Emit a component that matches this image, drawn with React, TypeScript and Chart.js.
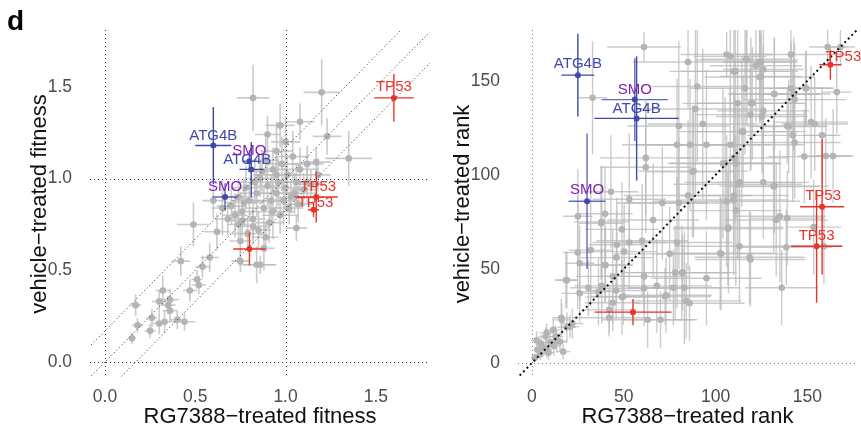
import React, { useEffect, useRef } from "react";
import { Chart, registerables } from "chart.js";
Chart.register(...registerables);

const FONT = "'Liberation Sans', Arial, Helvetica, sans-serif";

// ---------- Panel 1: fitness ----------
const fitTicks = [0, 0.5, 1, 1.5];
const fitVLines = [0, 1];
const fitHLines = [0, 1];
const fitDiagOffsets = [-0.17, 0, 0.17];

const fitGrayX = [0.82, 1.20, 0.97, 1.08, 0.90, 1.23, 1.35, 1.17, 0.49, 0.60, 0.62, 0.58, 0.42, 0.54, 0.51, 0.52, 0.47, 0.32, 0.17, 0.30, 0.36, 0.35, 0.36, 0.26, 0.18, 0.30, 0.33, 0.40, 0.44, 0.25, 0.15, 0.75, 0.75, 0.84, 0.86, 0.89, 1.06, 0.76, 0.82, 0.70, 0.72, 0.74, 0.76, 0.78, 0.80, 0.82, 0.84, 0.86, 0.88, 0.90, 0.92, 0.93, 0.95, 0.96, 0.98, 1.00, 1.01, 1.03, 1.04, 1.06, 1.08, 1.10, 1.12, 1.14, 0.89, 0.95, 1.00, 0.97, 1.02, 0.85, 0.79, 0.74, 0.68, 0.91, 1.07, 1.18, 0.99, 0.87, 0.83, 0.93, 1.05, 0.77, 0.95, 1.12, 0.65, 0.88];
const fitGrayY = [1.44, 1.47, 1.29, 1.31, 1.24, 1.23, 1.11, 1.09, 0.75, 0.88, 0.71, 0.57, 0.55, 0.52, 0.45, 0.42, 0.39, 0.39, 0.31, 0.33, 0.34, 0.31, 0.28, 0.24, 0.20, 0.21, 0.22, 0.23, 0.22, 0.17, 0.13, 0.66, 0.55, 0.53, 0.53, 0.68, 0.73, 0.77, 0.74, 0.85, 0.80, 0.90, 0.82, 0.95, 0.88, 0.78, 0.92, 1.00, 0.84, 0.96, 0.88, 1.05, 0.92, 0.98, 1.08, 0.95, 1.02, 0.90, 1.12, 0.98, 1.05, 0.94, 1.08, 0.97, 1.10, 1.15, 1.20, 0.80, 0.84, 0.72, 0.70, 0.75, 0.78, 0.76, 0.86, 1.02, 0.88, 1.04, 0.98, 0.82, 0.92, 0.87, 1.02, 0.98, 0.84, 0.62];
const fitGrayXErr = [0.09, 0.10, 0.08, 0.08, 0.07, 0.08, 0.13, 0.08, 0.09, 0.06, 0.07, 0.05, 0.05, 0.04, 0.03, 0.04, 0.04, 0.04, 0.03, 0.04, 0.05, 0.04, 0.04, 0.03, 0.03, 0.04, 0.05, 0.04, 0.06, 0.03, 0.02, 0.06, 0.05, 0.10, 0.09, 0.07, 0.06, 0.06, 0.08, 0.08, 0.07, 0.09, 0.06, 0.08, 0.10, 0.07, 0.09, 0.08, 0.10, 0.07, 0.09, 0.08, 0.10, 0.07, 0.09, 0.08, 0.10, 0.07, 0.09, 0.08, 0.10, 0.07, 0.09, 0.08, 0.07, 0.09, 0.08, 0.10, 0.08, 0.07, 0.09, 0.06, 0.07, 0.08, 0.09, 0.07, 0.09, 0.08, 0.10, 0.12, 0.12, 0.11, 0.13, 0.11, 0.06, 0.06];
const fitGrayYErr = [0.18, 0.18, 0.12, 0.10, 0.10, 0.10, 0.15, 0.08, 0.12, 0.10, 0.10, 0.08, 0.08, 0.06, 0.05, 0.05, 0.06, 0.08, 0.06, 0.06, 0.06, 0.05, 0.06, 0.05, 0.04, 0.06, 0.06, 0.05, 0.05, 0.04, 0.03, 0.10, 0.06, 0.10, 0.05, 0.08, 0.07, 0.09, 0.10, 0.10, 0.12, 0.10, 0.09, 0.12, 0.10, 0.11, 0.13, 0.10, 0.12, 0.11, 0.14, 0.12, 0.10, 0.13, 0.15, 0.12, 0.11, 0.09, 0.14, 0.10, 0.12, 0.09, 0.10, 0.08, 0.12, 0.16, 0.14, 0.10, 0.09, 0.10, 0.09, 0.10, 0.09, 0.11, 0.10, 0.09, 0.13, 0.11, 0.12, 0.15, 0.11, 0.13, 0.10, 0.12, 0.15, 0.12];

const fitTP53X = [1.60, 1.17, 1.155, 0.80];
const fitTP53Y = [1.44, 0.90, 0.83, 0.616];
const fitTP53XErr = [0.11, 0.12, 0.03, 0.09];
const fitTP53YErr = [0.13, 0.14, 0.04, 0.09];
const fitTP53Labels = ["TP53", "TP53", "TP53", ""];

const fitATG4BX = [0.60, 0.81];
const fitATG4BY = [1.18, 1.05];
const fitATG4BXErr = [0.10, 0.065];
const fitATG4BYErr = [0.21, 0.15];
const fitATG4BLabels = ["ATG4B", "ATG4B"];

const fitSMOX = [0.80, 0.665];
const fitSMOY = [1.095, 0.90];
const fitSMOXErr = [0.04, 0.07];
const fitSMOYErr = [0.06, 0.075];
const fitSMOLabels = ["SMO", "SMO"];

// ---------- Panel 2: rank ----------
const rankTicks = [0, 50, 100, 150];
const rankVLines = [0];
const rankHLines = [0];
const rankDiagOffsets = [0];

const rankGrayX = [61, 106, 108, 141, 161, 168, 85, 117, 124, 122, 126, 110, 124, 90, 116, 132, 141, 149, 143, 166, 33, 112, 120, 126, 89, 119, 152, 154, 93, 80, 139, 142, 115, 158, 108, 95, 79, 62, 164, 160, 110, 111, 104, 62, 88, 113, 126, 112, 132, 43, 53, 71, 80, 85, 106, 110, 111, 133, 139, 135, 66, 25, 38, 107, 113, 159, 49, 60, 79, 53, 32, 46, 75, 103, 119, 40, 44, 61, 26, 19, 78, 82, 95, 68, 83, 136, 26, 38, 49, 73, 44, 84, 77, 42, 63, 70, 16, 19, 22, 2.5, 8, 13, 6, 10, 13.5, 17, 4.4, 1.6, 9, 12, 5, 3,
  116.7, 124.7, 110.7, 124.7, 132, 142.5, 149.4, 119.2, 125.2, 114.3, 139.8, 86.1, 148.3, 143, 105.2, 87.4, 109.8, 131.6, 102.5, 118.5, 138.5, 153.4, 106.7, 81.6, 85.8, 39.8, 37.6, 46.2, 24.9, 39.8, 50.2, 18.5, 30.7, 36.2, 45.8, 49.8, 61.1, 72.5, 42.1, 16.2, 20.7, 11.6, 7.5, 15.3, 8];
const rankGrayY = [168, 164, 163, 164, 168, 168, 160, 161, 160, 158, 156, 155, 152, 147, 146, 143, 146, 146, 140, 144, 141, 138, 138, 134, 135, 132, 128, 127, 127, 126, 126, 121, 123, 121, 116, 116, 116, 109, 110, 110, 109, 106, 106, 104, 102, 96, 96, 95, 94, 91, 87, 85, 85, 89, 86, 89, 81, 76, 77, 78, 76, 78, 75, 72, 62, 62, 71, 65, 64, 64, 60, 56, 58, 58, 55, 52, 46, 46, 53, 44, 48, 48, 45, 41, 40, 40, 37, 41, 35, 36, 32, 33, 40, 24, 23, 23, 24, 19, 21, 12, 16, 14, 8, 11, 11.6, 6, 4.5, 2.7, 5.4, 9, 10, 7,
  161.5, 160, 155, 152.3, 143, 143, 146, 138, 131, 123, 125.7, 116, 109.7, 117.2, 106.2, 101.6, 86.7, 93.8, 58.3, 56.2, 61.5, 72.2, 71.3, 48, 31.7, 79.3, 74.3, 62.8, 58.7, 52.1, 59.2, 44.1, 40, 37.9, 38.5, 35.3, 39.7, 35.3, 28.2, 22.9, 19.3, 17.6, 14, 11.3, 6.9];
const rankGrayXErr = [20, 25, 20, 30, 10, 8, 30, 28, 20, 25, 22, 35, 30, 25, 30, 25, 20, 15, 28, 8, 8, 30, 28, 25, 35, 30, 20, 18, 30, 28, 22, 25, 30, 10, 40, 35, 30, 25, 10, 15, 30, 25, 30, 25, 30, 30, 25, 35, 30, 15, 20, 25, 30, 35, 40, 30, 25, 28, 20, 25, 25, 8, 15, 30, 35, 10, 20, 25, 30, 20, 12, 20, 30, 35, 30, 15, 20, 25, 8, 6, 30, 25, 30, 30, 30, 20, 10, 15, 20, 25, 15, 30, 25, 20, 25, 20, 5, 5, 6, 3, 4, 4, 3, 4, 5, 4, 3, 2, 3, 4, 3, 2,
  25, 20, 30, 22, 25, 20, 15, 30, 25, 35, 20, 30, 20, 25, 30, 25, 30, 25, 30, 30, 25, 15, 30, 30, 30, 15, 12, 15, 8, 15, 18, 6, 10, 12, 15, 18, 25, 25, 15, 5, 5, 4, 4, 4, 3];
const rankGrayYErr = [8, 12, 30, 20, 10, 10, 25, 35, 20, 30, 40, 45, 25, 40, 35, 30, 25, 20, 30, 22, 30, 40, 30, 35, 45, 30, 30, 25, 40, 45, 20, 35, 30, 25, 30, 40, 35, 30, 25, 20, 35, 30, 40, 35, 35, 40, 30, 40, 25, 30, 35, 30, 35, 40, 35, 30, 40, 30, 25, 35, 30, 25, 30, 35, 30, 20, 25, 30, 35, 25, 30, 25, 25, 30, 25, 20, 25, 20, 20, 15, 25, 20, 25, 25, 30, 20, 15, 20, 20, 20, 15, 20, 20, 10, 15, 15, 10, 8, 8, 5, 5, 6, 4, 5, 6, 4, 3, 2, 4, 5, 5, 4,
  20, 15, 25, 25, 30, 30, 20, 35, 30, 40, 25, 35, 25, 30, 35, 35, 40, 35, 30, 25, 20, 25, 30, 25, 20, 25, 30, 25, 30, 20, 25, 15, 15, 18, 15, 15, 20, 15, 12, 8, 6, 6, 5, 5, 4];

const rankTP53X = [162.5, 158, 155, 55];
const rankTP53Y = [158.5, 83, 62, 27];
const rankTP53XErr = [6, 12, 14, 21];
const rankTP53YErr = [8, 36, 30, 7];
const rankTP53Labels = ["TP53", "TP53", "TP53", ""];

const rankATG4BX = [25, 57];
const rankATG4BY = [153, 130];
const rankATG4BXErr = [9, 23];
const rankATG4BYErr = [22, 33];
const rankATG4BLabels = ["ATG4B", "ATG4B"];

const rankSMOX = [56, 30];
const rankSMOY = [140, 86];
const rankSMOXErr = [18, 10];
const rankSMOYErr = [22, 36];
const rankSMOLabels = ["SMO", "SMO"];

// label offsets in px relative to the point (label placement)
const fitLabelOffsets = {
  TP53: [[0, -11], [2, -10], [2, -7], [0, 0]],
  ATG4B: [[0, -10], [-4, -10]],
  SMO: [[0, -10], [0, -10]],
};
const rankLabelOffsets = {
  TP53: [[13, -8], [1, -11], [0, -10], [0, 0]],
  ATG4B: [[0, -11], [0, -10]],
  SMO: [[0, -10], [0, -11]],
};

const RED = "#E8352C";
const BLUE = "#4049A9";
const PURPLE = "#7E22B0";
const GRAY_PT = "#b4b4b4";
const GRAY_BAR = "rgba(185,185,185,0.75)";

function pts(xs: number[], ys: number[]) {
  return xs.map((x, i) => ({ x, y: ys[i] }));
}

function hl(name: string, xs, ys, xe, ye, labels, offsets, color, labelColor, barColor) {
  return {
    label: name,
    data: pts(xs, ys),
    xErr: xe,
    yErr: ye,
    labelTexts: labels,
    labelOffsets: offsets,
    labelColor,
    barColor,
    barWidth: 1.4,
    backgroundColor: color,
    borderColor: color,
    pointRadius: 3,
    borderWidth: 0,
  };
}

const panelPlugin = {
  id: "panelExtras",
  beforeDatasetDraw(chart, args) {
    const ds: any = chart.data.datasets[args.index];
    if (!ds.xErr) return;
    const { ctx, chartArea } = chart;
    const xs = chart.scales.x, ys = chart.scales.y;
    ctx.save();
    ctx.beginPath();
    ctx.rect(chartArea.left, chartArea.top, chartArea.right - chartArea.left, chartArea.bottom - chartArea.top);
    ctx.clip();
    ctx.strokeStyle = ds.barColor;
    ctx.lineWidth = ds.barWidth;
    ds.data.forEach((p, i) => {
      const px = xs.getPixelForValue(p.x);
      const py = ys.getPixelForValue(p.y);
      ctx.beginPath();
      ctx.moveTo(xs.getPixelForValue(p.x - ds.xErr[i]), py);
      ctx.lineTo(xs.getPixelForValue(p.x + ds.xErr[i]), py);
      ctx.moveTo(px, ys.getPixelForValue(p.y - ds.yErr[i]));
      ctx.lineTo(px, ys.getPixelForValue(p.y + ds.yErr[i]));
      ctx.stroke();
    });
    ctx.restore();
  },
  afterDatasetsDraw(chart) {
    const { ctx, chartArea } = chart;
    const xs = chart.scales.x, ys = chart.scales.y;
    const ref = (chart.options.plugins as any).panelExtras;
    ctx.save();
    ctx.beginPath();
    ctx.rect(chartArea.left, chartArea.top, chartArea.right - chartArea.left, chartArea.bottom - chartArea.top);
    ctx.clip();
    ctx.strokeStyle = ref.lineColor;
    ctx.lineWidth = 1;
    ctx.setLineDash([1, 3]);
    ref.vLines.forEach((v) => {
      const px = Math.round(xs.getPixelForValue(v)) + 0.5;
      ctx.beginPath();
      ctx.moveTo(px, chartArea.top);
      ctx.lineTo(px, chartArea.bottom);
      ctx.stroke();
    });
    ref.hLines.forEach((v) => {
      const py = Math.round(ys.getPixelForValue(v)) + 0.5;
      ctx.beginPath();
      ctx.moveTo(chartArea.left, py);
      ctx.lineTo(chartArea.right, py);
      ctx.stroke();
    });
    ctx.strokeStyle = ref.diagColor;
    ctx.lineWidth = ref.diagWidth;
    ctx.setLineDash(ref.diagDash);
    ref.diagOffsets.forEach((off) => {
      const x0 = xs.min - 1, x1 = xs.max + 1;
      ctx.beginPath();
      ctx.moveTo(xs.getPixelForValue(x0), ys.getPixelForValue(x0 + off));
      ctx.lineTo(xs.getPixelForValue(x1), ys.getPixelForValue(x1 + off));
      ctx.stroke();
    });
    ctx.restore();

    // labels
    ctx.save();
    ctx.font = `15px ${FONT}`;
    ctx.textAlign = "center";
    ctx.textBaseline = "middle";
    chart.data.datasets.forEach((d: any) => {
      if (!d.labelTexts) return;
      ctx.fillStyle = d.labelColor;
      d.data.forEach((p, i) => {
        const t = d.labelTexts[i];
        if (!t) return;
        const [dx, dy] = d.labelOffsets[i];
        ctx.fillText(t, xs.getPixelForValue(p.x) + dx, ys.getPixelForValue(p.y) + dy);
      });
    });
    ctx.restore();
  },
};

function makeConfig(p) {
  const tickFont = { size: 17.5, family: FONT };
  const titleFont = { size: 22, family: FONT };
  return {
    type: "scatter",
    data: {
      datasets: [
        hl("TP53", p.tp53[0], p.tp53[1], p.tp53[2], p.tp53[3], p.tp53[4], p.offsets.TP53, RED, RED, RED),
        hl("ATG4B", p.atg[0], p.atg[1], p.atg[2], p.atg[3], p.atg[4], p.offsets.ATG4B, BLUE, BLUE, BLUE),
        hl("SMO", p.smo[0], p.smo[1], p.smo[2], p.smo[3], p.smo[4], p.offsets.SMO, BLUE, PURPLE, "rgba(70,80,180,0.85)"),
        {
          label: "other",
          data: pts(p.gray[0], p.gray[1]),
          xErr: p.gray[2],
          yErr: p.gray[3],
          barColor: GRAY_BAR,
          barWidth: p.grayBarWidth,
          backgroundColor: GRAY_PT,
          borderColor: GRAY_PT,
          pointRadius: 3.3,
          borderWidth: 0,
        },
      ],
    },
    options: {
      responsive: false,
      animation: false,
      devicePixelRatio: 1,
      layout: { padding: p.padding },
      plugins: {
        legend: { display: false },
        tooltip: { enabled: false },
        panelExtras: p.lines,
      },
      scales: {
        x: {
          type: "linear",
          min: p.xMin,
          max: p.xMax,
          afterBuildTicks: (s) => { s.ticks = p.ticks.map((v) => ({ value: v })); },
          afterFit: (s) => { s.height = p.xHeight; },
          ticks: { callback: p.fmt, color: "#4d4d4d", font: tickFont, padding: 1, maxRotation: 0, autoSkip: false },
          grid: { display: false },
          border: { display: false },
          title: { display: true, text: p.xTitle, color: "#111", font: titleFont, padding: { top: 0, bottom: 0 } },
        },
        y: {
          type: "linear",
          min: p.yMin,
          max: p.yMax,
          afterBuildTicks: (s) => { s.ticks = p.ticks.map((v) => ({ value: v })); },
          afterFit: (s) => { s.width = p.yWidth; },
          ticks: { callback: p.fmt, color: "#4d4d4d", font: tickFont, padding: 10, autoSkip: false },
          grid: { display: false },
          border: { display: false },
          title: { display: true, text: p.yTitle, color: "#111", font: titleFont, padding: { top: 4, bottom: 0 } },
        },
      },
    },
    plugins: [panelPlugin],
  };
}

const fitPanel = {
  gray: [fitGrayX, fitGrayY, fitGrayXErr, fitGrayYErr],
  tp53: [fitTP53X, fitTP53Y, fitTP53XErr, fitTP53YErr, fitTP53Labels],
  atg: [fitATG4BX, fitATG4BY, fitATG4BXErr, fitATG4BYErr, fitATG4BLabels],
  smo: [fitSMOX, fitSMOY, fitSMOXErr, fitSMOYErr, fitSMOLabels],
  offsets: fitLabelOffsets,
  ticks: fitTicks,
  fmt: (v) => Number(v).toFixed(1),
  xMin: -0.083, xMax: 1.8, yMin: -0.087, yMax: 1.81,
  padding: { left: 23, right: 10, top: 30, bottom: 0 },
  yWidth: 67, xHeight: 52,
  grayBarWidth: 1.6,
  xTitle: "RG7388\u2212treated fitness",
  yTitle: "vehicle\u2212treated fitness",
  lines: { vLines: fitVLines, hLines: fitHLines, diagOffsets: fitDiagOffsets, lineColor: "#333", diagColor: "#222", diagWidth: 1, diagDash: [1, 2.6] },
};

const rankPanel = {
  gray: [rankGrayX, rankGrayY, rankGrayXErr, rankGrayYErr],
  tp53: [rankTP53X, rankTP53Y, rankTP53XErr, rankTP53YErr, rankTP53Labels],
  atg: [rankATG4BX, rankATG4BY, rankATG4BXErr, rankATG4BYErr, rankATG4BLabels],
  smo: [rankSMOX, rankSMOY, rankSMOXErr, rankSMOYErr, rankSMOLabels],
  offsets: rankLabelOffsets,
  ticks: rankTicks,
  fmt: (v) => String(v),
  xMin: -7.6, xMax: 177, yMin: -8, yMax: 177,
  padding: { left: 6, right: 4, top: 30, bottom: 0 },
  yWidth: 72, xHeight: 52,
  grayBarWidth: 1.4,
  xTitle: "RG7388\u2212treated rank",
  yTitle: "vehicle\u2212treated rank",
  lines: { vLines: rankVLines, hLines: rankHLines, diagOffsets: rankDiagOffsets, lineColor: "#777", diagColor: "#111", diagWidth: 2, diagDash: [2, 3] },
};

function Panel({ cfg, left, width }) {
  const ref = useRef<HTMLCanvasElement | null>(null);
  useEffect(() => {
    const chart = new Chart(ref.current as HTMLCanvasElement, makeConfig(cfg) as any);
    return () => chart.destroy();
  }, []);
  return (
    <canvas
      ref={ref}
      width={width}
      height={430}
      style={{ position: "absolute", left, top: 0, width, height: 430 }}
    />
  );
}

export default function App() {
  return (
    <div style={{ position: "fixed", left: 0, top: 0, width: 861, height: 430, background: "#fff", overflow: "hidden" }}>
      <Panel cfg={fitPanel} left={0} width={440} />
      <Panel cfg={rankPanel} left={440} width={421} />
      <div style={{ position: "absolute", left: 7, top: 4, fontFamily: FONT, fontWeight: "bold", fontSize: 28, lineHeight: "34px", color: "#000" }}>d</div>
    </div>
  );
}
